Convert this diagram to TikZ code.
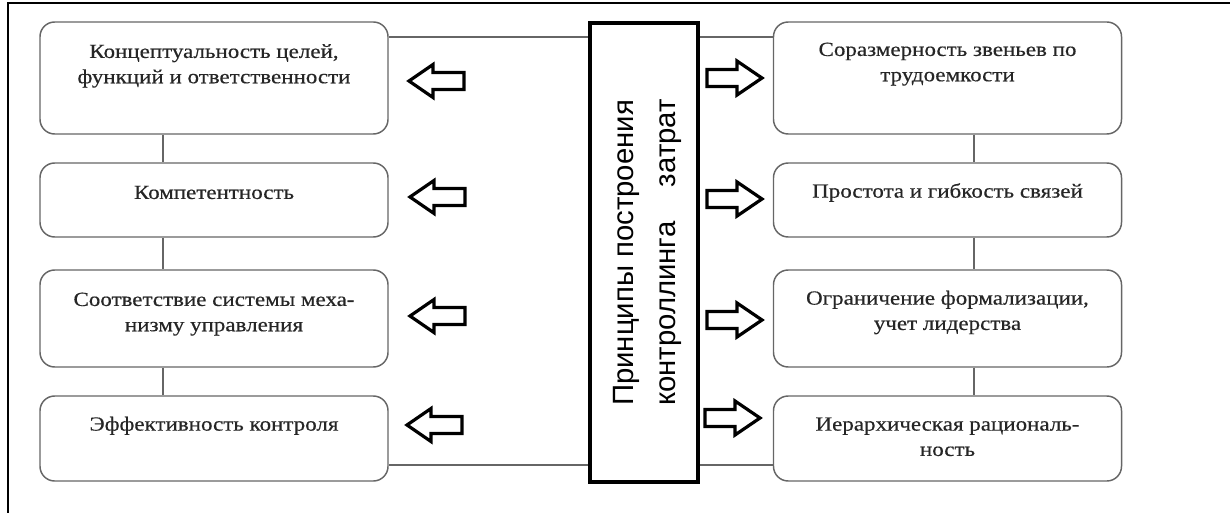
\documentclass[tikz,border=0pt]{standalone}
\usepackage{fontspec}
\setmainfont{Liberation Serif}[FakeStretch=1.15, FakeBold=0.4]
\newfontfamily\headfont{Liberation Sans}
\begin{document}
\begin{tikzpicture}[x=0.75pt,y=-0.75pt,
  box/.style={draw=black!60, line width=1.1pt, rounded corners=11pt,
    minimum width=261pt, inner sep=0pt, fill=white},
  boxtext/.style={anchor=north, inner sep=0pt, align=center, text=black!85,
    font=\fontsize{15}{19}\selectfont},
  link/.style={draw=black!60, line width=1.1pt},
  blockline/.style={draw=black, line width=2.4pt, line join=miter, fill=white},
  larrow/.pic={\path[blockline] (0,0) -- (24,-16.5) -- (24,-8.5) -- (55,-8.5)
      -- (55,8.5) -- (24,8.5) -- (24,16.5) -- cycle;},
  rarrow/.pic={\path[blockline] (0,0) -- (-25,-17) -- (-25,-8.5) -- (-55,-8.5)
      -- (-55,8.5) -- (-25,8.5) -- (-25,17) -- cycle;}
]
\useasboundingbox (0,0) rectangle (1230,513);

% outer frame (top and left edges)
\draw[line width=1.5pt] (8,513) -- (8,3) -- (1230,3);

% guide coordinates for the connector rails
\coordinate (railL) at (163,0);
\coordinate (railR) at (974,0);
\coordinate (top) at (0,37);
\coordinate (bot) at (0,465);

% left column
\node[box, minimum height=84pt]    (L1) at (214,78)    {};
\node[box, minimum height=55.5pt]  (L2) at (214,200)   {};
\node[box, minimum height=72.75pt] (L3) at (214,318.5) {};
\node[box, minimum height=63.75pt] (L4) at (214,438.5) {};

% right column
\node[box, minimum height=84pt]    (R1) at (947.5,78)    {};
\node[box, minimum height=55.5pt]  (R2) at (947.5,200)   {};
\node[box, minimum height=72.75pt] (R3) at (947.5,318.5) {};
\node[box, minimum height=63.75pt] (R4) at (947.5,438.5) {};

% central box
\node[draw=black, line width=3pt, minimum width=81pt, minimum height=344pt,
      inner sep=0pt] (C) at (644,252.5) {};
\node[rotate=90, inner sep=0pt, font=\headfont\fontsize{22}{31.5}\selectfont]
  (Ct) at ([xshift=1.5pt]C.center)
  {\begin{tabular}{@{}l@{}}Принципы построения\\
   контроллинга\hspace{26pt}затрат\end{tabular}};

% box texts
\node[boxtext] (tL1) at ([yshift=-14pt]L1.north) {\strut Концептуальность целей,\\функций и ответственности};
\node[boxtext] (tL2) at ([yshift=-14pt]L2.north) {\strut Компетентность};
\node[boxtext] (tL3) at ([yshift=-14pt]L3.north) {\strut Соответствие системы меха-\\низму управления};
\node[boxtext] (tL4) at ([yshift=-13pt]L4.north) {\strut Эффективность контроля};
\node[boxtext] (tR1) at ([yshift=-12.5pt]R1.north) {\strut Соразмерность звеньев по\\трудоемкости};
\node[boxtext] (tR2) at ([yshift=-13pt]R2.north) {\strut Простота и гибкость связей};
\node[boxtext] (tR3) at ([yshift=-13pt]R3.north) {\strut Ограничение формализации,\\учет лидерства};
\node[boxtext] (tR4) at ([yshift=-13pt]R4.north) {\strut Иерархическая рациональ-\\ность};

% vertical rails between boxes
\draw[link] (L1.south -| railL) -- (L2.north -| railL);
\draw[link] (L2.south -| railL) -- (L3.north -| railL);
\draw[link] (L3.south -| railL) -- (L4.north -| railL);
\draw[link] (R1.south -| railR) -- (R2.north -| railR);
\draw[link] (R2.south -| railR) -- (R3.north -| railR);
\draw[link] (R3.south -| railR) -- (R4.north -| railR);

% horizontal ties to the central box
\draw[link] (L1.east |- top) -- (C.west |- top);
\draw[link] (C.east |- top) -- (R1.west |- top);
\draw[link] (L4.east |- bot) -- (C.west |- bot);
\draw[link] (C.east |- bot) -- (R4.west |- bot);

% block arrows
\pic at (409,81)  {larrow};
\pic at (410,197) {larrow};
\pic at (410,316) {larrow};
\pic at (407,425) {larrow};
\pic at (762,78)  {rarrow};
\pic at (762,199) {rarrow};
\pic at (762,320) {rarrow};
\pic at (760,418) {rarrow};
\end{tikzpicture}
\end{document}
